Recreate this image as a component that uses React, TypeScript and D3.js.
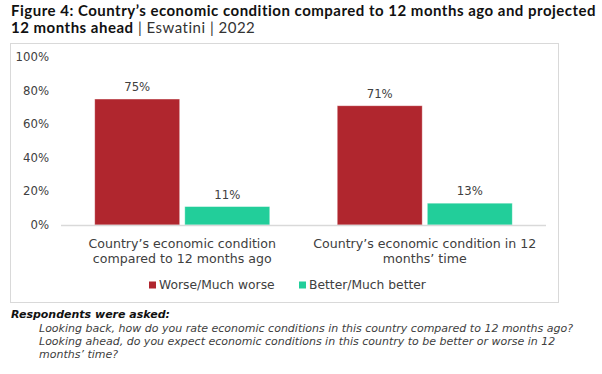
import React from "react";
import * as d3 from "d3";

const categories: string[][] = [
  ["Country\u2019s economic condition", "compared to 12 months ago"],
  ["Country\u2019s economic condition in 12", "months\u2019 time"],
];
const categoryKeys = ["ago", "ahead"];
const seriesNames = ["Worse/Much worse", "Better/Much better"];
const seriesColors = ["#B0262E", "#22CE9A"];
const worseValues = [0.75, 0.71];
const betterValues = [0.11, 0.13];
const yTicks = [0, 0.2, 0.4, 0.6, 0.8, 1.0];
const footerLines = [
  "Looking back, how do you rate economic conditions in this country compared to 12 months ago?",
  "Looking ahead, do you expect economic conditions in this country to be better or worse in 12",
  "months\u2019 time?",
];

const FONT = "'DejaVu Sans', sans-serif";
const TITLE_FONT = "Lato, 'Open Sans', sans-serif";
const TEXT = "#404040";

export default function App() {
  const W = 602, H = 374;
  const x0 = d3.scaleBand<string>().domain(categoryKeys).range([61, 546]).padding(0);
  const bw = x0.bandwidth();
  const x1 = d3
    .scaleBand<string>()
    .domain(seriesNames)
    .range([bw * 0.139, bw * 0.861])
    .paddingInner(0.056)
    .paddingOuter(0);
  const y = d3.scaleLinear().domain([0, 1]).range([225, 57]);
  const fmt = d3.format(".0%");
  const seriesValues = [worseValues, betterValues];

  return (
    <svg
      width={W}
      height={H}
      style={{ position: "absolute", left: 0, top: 0, background: "#fff" }}
      fontFamily={FONT}
    >
      <rect x={0} y={0} width={W} height={H} fill="#fff" />
      {/* Title */}
      <text x={11} y={16} fontSize={15} letterSpacing={0.5} fontWeight="bold" fill="#111" fontFamily={TITLE_FONT}>
        Figure 4: Country’s economic condition compared to 12 months ago and projected
      </text>
      <text x={11} y={32.5} fontSize={15} letterSpacing={0.5} fill="#111" fontFamily={TITLE_FONT}>
        <tspan fontWeight="bold">12 months ahead</tspan>
        <tspan fill="#333" fontWeight="normal"> | Eswatini | 2022</tspan>
      </text>

      {/* Chart frame */}
      <rect x={10.5} y={43.5} width={548} height={259} fill="#fff" stroke="#D9D9D9" strokeWidth={1} />

      {/* Y axis labels */}
      {yTicks.map((t) => (
        <text
          key={t}
          x={49}
          y={y(t)}
          dy="0.35em"
          textAnchor="end"
          fontSize={11.7}
          fill={TEXT}
        >
          {fmt(t)}
        </text>
      ))}

      {/* Bars */}
      {categoryKeys.map((c, ci) => (
        <g key={c} transform={`translate(${x0(c)},0)`}>
          {seriesNames.map((s, si) => {
            const v = seriesValues[si][ci];
            const bx = x1(s)!;
            return (
              <g key={s}>
                <rect
                  x={bx}
                  y={y(v)}
                  width={x1.bandwidth()}
                  height={y(0) - y(v)}
                  fill={seriesColors[si]}
                  stroke="rgba(255,255,255,0.55)"
                  strokeWidth={0.8}
                />
                <text
                  x={bx + x1.bandwidth() / 2}
                  y={y(v) - 8}
                  textAnchor="middle"
                  fontSize={11.7}
                  fill={TEXT}
                >
                  {fmt(v)}
                </text>
              </g>
            );
          })}
          {categories[ci].map((line, li) => (
            <text
              key={li}
              x={bw / 2}
              y={248 + li * 14.5}
              textAnchor="middle"
              fontSize={12.6}
              fill={TEXT}
            >
              {line}
            </text>
          ))}
        </g>
      ))}

      {/* Baseline */}
      <line x1={61} x2={546} y1={y(0) + 0.5} y2={y(0) + 0.5} stroke="#D9D9D9" strokeWidth={1.5} />

      {/* Legend */}
      {seriesNames.map((s, i) => {
        const lx = [149, 299][i];
        return (
          <g key={s}>
            <rect x={lx} y={281.5} width={7} height={7} fill={seriesColors[i]} />
            <text x={lx + 10} y={288.5} fontSize={12.3} fill={TEXT}>
              {s}
            </text>
          </g>
        );
      })}

      {/* Footer */}
      <text x={11} y={318} fontSize={11} fontWeight="bold" fontStyle="italic" fill="#111">
        Respondents were asked:
      </text>
      {footerLines.map((l, i) => (
        <text key={i} x={39} y={332 + i * 12.8} fontSize={11} fontStyle="italic" fill={TEXT}>
          {l}
        </text>
      ))}
    </svg>
  );
}
